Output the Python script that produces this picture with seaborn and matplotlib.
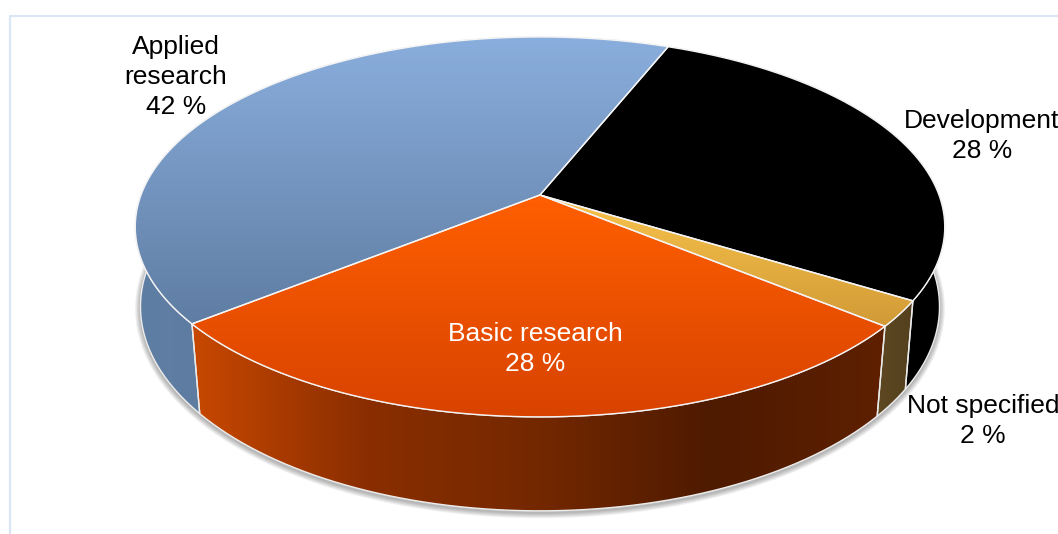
#!/usr/bin/env python3
"""3D-look pie chart of research types, drawn on seaborn palettes."""

import numpy as np
import matplotlib
matplotlib.use("Agg")
import matplotlib.pyplot as plt
from matplotlib.patches import Polygon
import seaborn as sns

# data
labels = ["Development", "Not specified", "Basic research", "Applied\nresearch"]
shares = [27.7, 2.2, 28.3, 41.8]

top_colors = [["#000000", "#000000"],
              ["#f8c44c", "#d29a36"],
              ["#ff5f00", "#d84300"],
              ["#8aaedd", "#5f7da3"]]
wall_colors = [["#000000", "#000000"],
               ["#5e4822", "#54401e"],
               ["#c84800", "#8a2e00", "#742800", "#4e1a00", "#5e2000"],
               ["#5f7ea3", "#56708f"]]
text_colors = ["black", "black", "white", "black"]
label_pos = [(982, 136), (983, 421), (535, 349), (176, 77)]

START_ANGLE = 21.8

sns.set_theme(style="white")
plt.rcParams["font.family"] = ["Liberation Sans", "DejaVu Sans"]

CX, CY = 540, 195


def project(theta, width, height, drop, k):
    """Map pie angles (deg, clockwise from the back) to pixel positions."""
    rad = np.radians(theta)
    w = 1 + k * np.cos(rad)
    return CX + width * np.sin(rad) / w, CY - height * np.cos(rad) / w + drop


def top_rim(theta):
    return project(theta, 399, 184.6, 0, 0.168)


def bottom_rim(theta):
    return project(theta, 395, 199.6, 81, 0.15)


def fill_gradient(ax, points, colors, vertical, zorder):
    """Fill a polygon with a gradient running across its bounding box."""
    cmap = sns.blend_palette(colors, as_cmap=True)
    patch = Polygon(points, closed=True, facecolor="none", edgecolor="none",
                    zorder=zorder)
    ax.add_patch(patch)
    ramp = np.linspace(0, 1, 256)
    ramp = ramp.reshape(-1, 1) if vertical else ramp.reshape(1, -1)
    x0, y0 = points.min(axis=0)
    x1, y1 = points.max(axis=0)
    img = ax.imshow(ramp, cmap=cmap, vmin=0, vmax=1, origin="upper", aspect="auto",
                    extent=(x0, x1, y1, y0), zorder=zorder, interpolation="bilinear")
    img.set_clip_path(patch)


fig, ax = plt.subplots(figsize=(10.58, 5.34), dpi=100)
ax.set_position([0, 0, 1, 1])
ax.axis("off")

# chart frame
ax.plot([10, 10, 1058], [534, 16, 16], color="#dae6f6", lw=1.6, zorder=0)

# soft shadow under the pie
bx, by = bottom_rim(np.linspace(0, 360, 361))
for lw in np.arange(1, 9, 1.0):
    ax.plot(bx, by + 2, color="black", alpha=0.04, lw=lw, zorder=1,
            solid_capstyle="round")

edges = START_ANGLE + np.cumsum([0] + shares) * 3.6

for i in range(len(shares)):
    arc = np.linspace(edges[i], edges[i + 1], 200)
    tx, ty = top_rim(arc)
    bx, by = bottom_rim(arc)

    # side wall
    wall = np.vstack([np.column_stack([tx, ty]), np.column_stack([bx, by])[::-1]])
    fill_gradient(ax, wall, wall_colors[i], False, 2)
    ax.plot(wall[:, 0].tolist() + [wall[0, 0]], wall[:, 1].tolist() + [wall[0, 1]],
            color="#ececec", lw=1.0, zorder=2.5)

for i in range(len(shares)):
    arc = np.linspace(edges[i], edges[i + 1], 200)
    tx, ty = top_rim(arc)

    # top face
    face = np.vstack([[CX, CY], np.column_stack([tx, ty])])
    fill_gradient(ax, face, top_colors[i], True, 3)
    ax.plot(face[:, 0].tolist() + [CX], face[:, 1].tolist() + [CY],
            color="#f4f4f4", lw=1.0, zorder=3.5)

for label, share, color, pos in zip(labels, shares, text_colors, label_pos):
    ax.text(pos[0], pos[1], f"{label}\n{round(share)} %", color=color, fontsize=19,
            ha="center", va="center", linespacing=1.34, zorder=5)

ax.set_xlim(0, 1058)
ax.set_ylim(534, 0)

fig.savefig("out.png", dpi=100)
plt.close(fig)
